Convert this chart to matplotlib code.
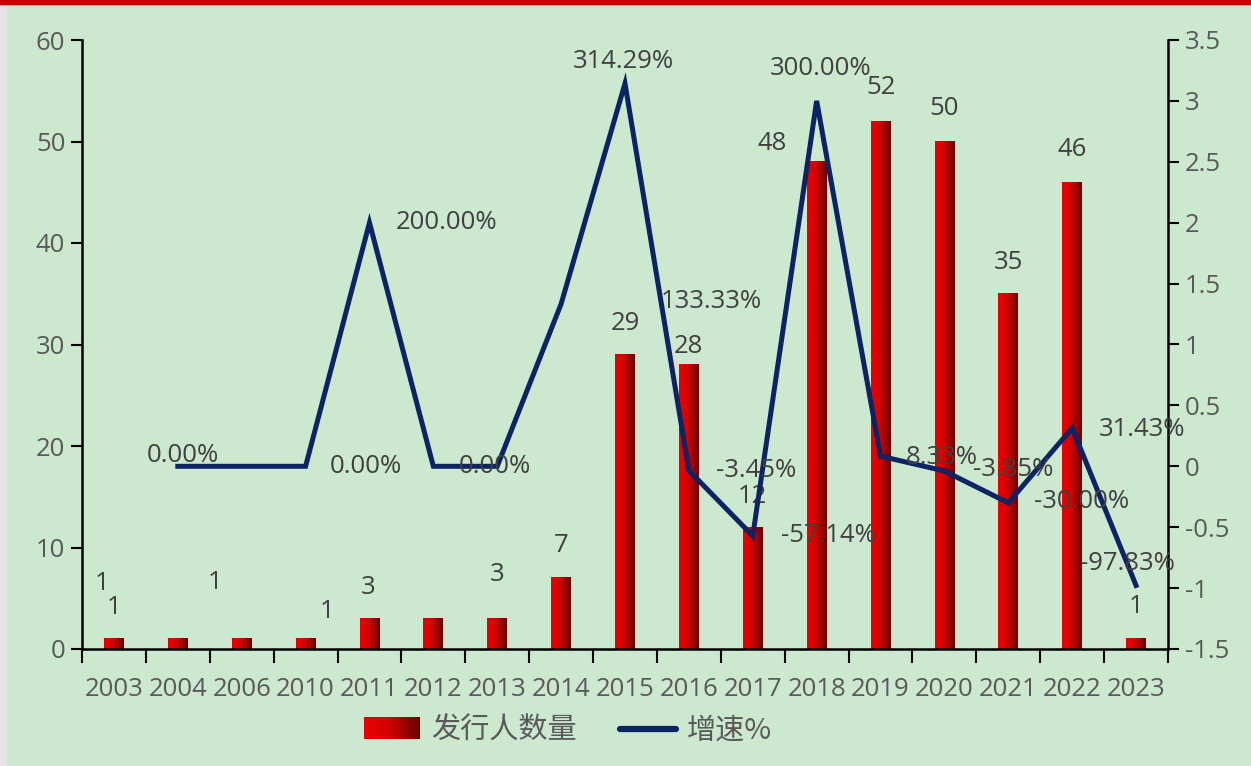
import numpy as np
import matplotlib
matplotlib.use("Agg")
import matplotlib.pyplot as plt
from matplotlib.colors import LinearSegmentedColormap
from matplotlib.patches import Rectangle
from matplotlib.lines import Line2D
from matplotlib.legend_handler import HandlerBase
from matplotlib.image import BboxImage
from matplotlib.transforms import Bbox, TransformedBbox

plt.rcParams['font.family'] = ['Open Sans', 'DejaVu Sans']

# issuer counts per year and year-on-year growth (%)
years = ['2003', '2004', '2006', '2010', '2011', '2012', '2013', '2014', '2015',
         '2016', '2017', '2018', '2019', '2020', '2021', '2022', '2023']
issuers = [1, 1, 1, 1, 3, 3, 3, 7, 29, 28, 12, 48, 52, 50, 35, 46, 1]
growth = [np.nan, 0.00, 0.00, 0.00, 200.00, 0.00, 0.00, 133.33, 314.29,
          -3.45, -57.14, 300.00, 8.33, -3.85, -30.00, 31.43, -97.83]

# label offsets (dx in categories, dy in axis units); None = label hidden
bar_lbl_off = [(0, 3.1), (-1.19, 5.5), (-0.42, 5.6), (0.34, 2.65), (-0.02, 3.1), None,
               (0, 4.3), (0, 3.15), (0, 3.1), (0, 1.85), (0, 3.07), (-0.69, 1.85),
               (0, 3.3), (0, 3.3), (0, 3.1), (0, 3.2), (0, 3.2)]
line_lbl_off = [None, (0.08, 0.09), None, (0.95, 0.0), (1.2, 0.0), None, (-0.03, 0.0),
                (2.35, 0.02), (-0.02, 0.18), (1.05, 0.0), (1.18, 0.0), (0.07, 0.27),
                (0.96, -0.015), (1.07, 0.01), (1.15, 0.01), (1.09, -0.016), (-0.14, 0.18)]

BG = '#CCE8CF'
TICK = '#595959'
LBL = '#404040'
NAVY = '#0C2364'
FS = 18.5
bar_cmap = LinearSegmentedColormap.from_list(
    'redbar', [(0, '#EA0000'), (0.45, '#D40000'), (1, '#6A0000')])
grad = np.linspace(0, 1, 64).reshape(1, -1)

fig = plt.figure(figsize=(12.51, 7.66), dpi=100, facecolor=BG)
fig.patches.append(Rectangle((0, 0), 6 / 1251, 1, transform=fig.transFigure,
                             color='#E4E4E4', zorder=0))
fig.patches.append(Rectangle((0, 1 - 4 / 766), 1, 4 / 766, transform=fig.transFigure,
                             color='#C00000', zorder=0))

ax = fig.add_axes([82 / 1251, 1 - 649 / 766, (1168 - 82) / 1251, (649 - 40) / 766])
ax.set_facecolor('none')
x = np.arange(len(years))
w = 0.31

# gradient-filled bars
for xi, v in zip(x, issuers):
    ax.imshow(grad, cmap=bar_cmap, extent=[xi - w / 2, xi + w / 2, 0, v],
              aspect='auto', zorder=2, interpolation='bilinear')
ax.set_xlim(-0.5, len(years) - 0.5)
ax.set_ylim(0, 60)
ax.set_yticks(np.arange(0, 61, 10))
ax.set_xticks(x)
ax.set_xticklabels(years)
ax.set_xticks(np.arange(-0.5, len(years), 1), minor=True)
ax.tick_params(axis='x', which='major', length=0, pad=20, labelsize=FS, labelcolor=TICK)
ax.tick_params(axis='x', which='minor', length=10, width=1.5, color='black', direction='out')
ax.tick_params(axis='y', length=8, width=1.5, labelsize=FS, labelcolor=TICK, pad=4)
for s in ['top', 'right']:
    ax.spines[s].set_visible(False)
for s in ['left', 'bottom']:
    ax.spines[s].set_linewidth(1.8)

for xi, v, off in zip(x, issuers, bar_lbl_off):
    if off is None:
        continue
    ax.text(xi + off[0], v + off[1], str(v), ha='center', va='center',
            fontsize=FS, color=LBL, zorder=5)

ax2 = ax.twinx()
ax2.set_ylim(-1.5, 3.5)
ax2.set_yticks(np.arange(-1.5, 3.51, 0.5))
ax2.set_yticklabels(['-1.5', '-1', '-0.5', '0', '0.5', '1', '1.5', '2', '2.5', '3', '3.5'])
ax2.tick_params(axis='y', length=8, width=1.5, labelsize=FS, labelcolor=TICK, pad=4)
for s in ['top', 'left', 'bottom']:
    ax2.spines[s].set_visible(False)
ax2.spines['right'].set_linewidth(1.8)

g = np.array(growth) / 100
ax2.plot(x, g, color=NAVY, lw=3.6, solid_joinstyle='miter', zorder=3)
for xi, v, off in zip(x, growth, line_lbl_off):
    if off is None:
        continue
    ax2.text(xi + off[0], v / 100 + off[1], f'{v:.2f}%', ha='center', va='center',
             fontsize=FS, color=LBL, zorder=6)


class GradientHandler(HandlerBase):
    def create_artists(self, legend, orig_handle, xdescent, ydescent,
                       width, height, fontsize, trans):
        bb = Bbox.from_bounds(-xdescent, -ydescent, width, height * 1.05)
        img = BboxImage(TransformedBbox(bb, trans), cmap=bar_cmap, interpolation='bilinear')
        img.set_data(grad)
        return [img]


bar_handle = Rectangle((0, 0), 1, 1)
line_handle = Line2D([], [], color=NAVY, lw=4.5, solid_capstyle='round')
fig.legend([bar_handle, line_handle], ['发行人数量', '增速%'],
           handler_map={Rectangle: GradientHandler()},
           loc='center', bbox_to_anchor=(568 / 1251, 1 - 731 / 766), ncol=2,
           frameon=False, handlelength=1.9, handletextpad=0.4, columnspacing=1.5,
           prop={'family': ['Noto Sans CJK SC', 'DejaVu Sans'], 'size': 21, 'weight': 'light'},
           labelcolor=TICK)

fig.savefig('out.png', dpi=100, facecolor=BG)
